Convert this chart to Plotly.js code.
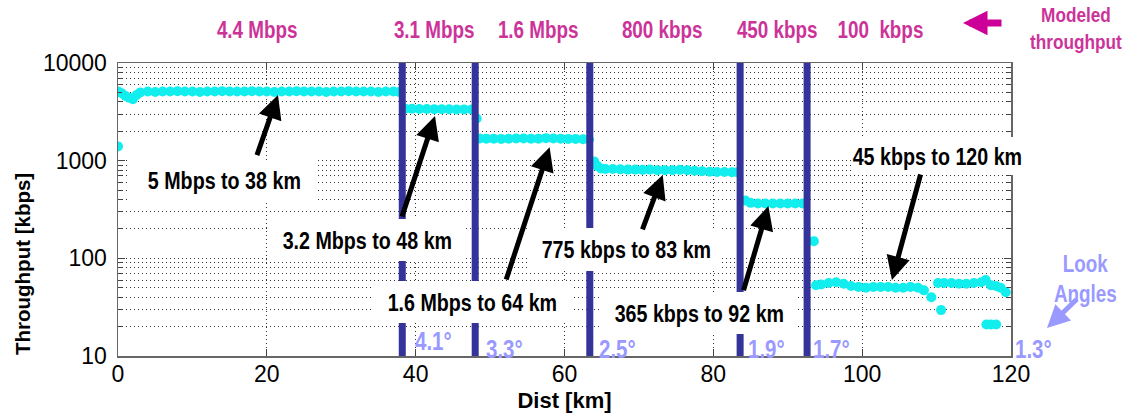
<!DOCTYPE html>
<html>
<head>
<meta charset="utf-8">
<script src="https://cdn.plot.ly/plotly-3.0.1.min.js"></script>
<style>html,body{margin:0;padding:0;background:#fff;}#chart{width:1127px;height:420px;}</style>
</head>
<body>
<div id="chart"></div>
<script>
// ---------- data ----------
const distKm = [
  0, 0, 0.5, 1, 1.5, 2, 2.5, 3, 4, 5, 6, 7, 8, 9, 10, 11, 12, 13, 14, 15, 16, 17, 18, 19, 20,
  21, 22, 23, 24, 25, 26, 27, 28, 29, 30, 31, 32, 33, 34, 35, 36, 37, 37.8,
  38.6, 39.5, 40.5, 41.5, 42.5, 43.5, 44.5, 45.5, 46.5, 47.5, 48.2,
  48.6, 49.5, 50.5, 51.5, 52.5, 53.5, 54.5, 55.5, 56.5, 57.5, 58.5, 59.5, 60.5, 61.5, 62.5, 63.3,
  64.0, 64.4, 64.9, 65.5, 66.5, 67.5, 68.5, 69.5, 70.5, 71.5, 72.5, 73.5, 74.5, 75.5, 76.5, 77.5,
  78.5, 79.5, 80.5, 81.5, 82.5, 83.2,
  84.3, 85, 86, 87, 88, 89, 90, 91, 92,
  93.5, 93.8, 94.5, 95.5, 96.5, 97.5, 98.5, 99.5, 100.5, 101.5, 102.5, 103.5, 104.5, 105.5,
  106.5, 107.5, 108.3, 109.3, 110.6,
  110.2, 111, 112, 113, 114, 115, 116, 116.6, 117.3, 118, 118.6, 119.3,
  116.7, 117.3, 118
];
const rateKbps = [
  1400, 5100, 4900, 4600, 4400, 4250, 4700, 5000, 5100, 5050, 5100, 5100, 5150, 5100, 5100,
  5050, 5100, 5100, 5150, 5100, 5100, 5100, 5150, 5100, 5100,
  5050, 5100, 5100, 5150, 5100, 5100, 5100, 5050, 5100, 5100, 5150, 5100, 5100, 5100, 5050, 5100, 5100, 5050,
  3400, 3400, 3380, 3380, 3370, 3370, 3360, 3350, 3350, 3340, 2700,
  1690, 1680, 1680, 1670, 1680, 1690, 1690, 1680, 1680, 1700, 1690, 1680, 1670, 1670, 1660, 1650,
  980, 880, 830, 820, 820, 815, 810, 810, 805, 810, 800, 800, 800, 805, 800, 790,
  780, 770, 765, 765, 760, 760,
  390, 370, 365, 365, 365, 365, 365, 365, 365,
  150, 53, 54, 56, 57, 55, 52, 51, 50, 51, 51, 51, 50, 50,
  51, 50, 47, 40, 29.5,
  56, 56, 56, 55, 55, 56, 57, 60, 53, 52, 50, 45,
  21, 21, 21
];

// vertical dividers (modeled-rate boundaries), km
const boundaryKm = [38.2, 48.0, 63.4, 83.6, 92.6];

// modeled throughput labels (top row)
const modeledLabels = ['4.4 Mbps', '3.1 Mbps', '1.6 Mbps', '800 kbps', '450 kbps', '100\u00a0 kbps'];

// look angles at each boundary
const lookAngles = ['4.1°', '3.3°', '2.5°', '1.9°', '1.7°', '1.3°'];

// measured-result callouts and the data points their arrows reach
const calloutLabels = ['5 Mbps to 38 km', '3.2 Mbps to 48 km', '1.6 Mbps to 64 km',
                       '775 kbps to 83 km', '365 kbps to 92 km', '45 kbps to 120 km'];
const arrowTipKm    = [21.5, 42.6, 58.0, 73.2, 87.4, 104.0];
const arrowTipKbps  = [4700, 2865, 1371, 713, 343, 60];
const arrowTailKm   = [18.6, 38.1, 52.1, 70.4, 84.0, 107.9];
const arrowTailKbps = [1099, 259, 58.6, 190.6, 45.5, 748];

// axis ticks
const xTickVals = [0, 20, 40, 60, 80, 100, 120];
const yTickVals = [10, 100, 1000, 10000];
const yTickText = ['10', '100', '1000', '10000'];
const yMinorVals = [20, 30, 40, 50, 60, 70, 80, 90, 200, 300, 400, 500, 600, 700, 800, 900,
                    2000, 3000, 4000, 5000, 6000, 7000, 8000, 9000];

// ---------- layout helpers (plot area in pixels) ----------
const PL = 118, PR = 1011, PT = 63, PB = 356;
const fx = p => (p - PL) / (PR - PL);
const fy = p => (PB - p) / (PB - PT);

const NARROW = "Liberation Sans Narrow, Arial Narrow, Liberation Sans, Arial, sans-serif";
const ARIAL = "Liberation Sans, Arial, sans-serif";
const MAGENTA = '#cc3399';
const LILAC = '#9999ff';

const trace = {
  x: distKm, y: rateKbps, type: 'scatter', mode: 'markers',
  marker: {size: 10, color: '#12eeee', line: {width: 0}},
  hoverinfo: 'x+y', showlegend: false
};

const shapes = [];
// blank patch in the original figure (top right, no grid)
shapes.push({type: 'rect', xref: 'paper', yref: 'paper', x0: fx(768), x1: fx(996), y0: fy(121), y1: fy(64.5),
             fillcolor: '#ffffff', line: {width: 0}, layer: 'between'});
boundaryKm.forEach(b => shapes.push({
  type: 'line', xref: 'x', yref: 'paper', x0: b, x1: b, y0: 0, y1: 1,
  line: {color: '#333399', width: 7}, layer: 'above'
}));
// white callout boxes: [centerX px, centerY px, width, height]
const boxGeom = [[224, 180, 188, 40], [367, 240, 198, 42], [472, 302, 200, 42],
                 [626, 249.5, 192, 43], [699, 313, 198, 42], [937, 156, 166, 38]];
boxGeom.forEach(g => shapes.push({type: 'rect', xref: 'paper', yref: 'paper',
  x0: fx(g[0] - g[2] / 2), x1: fx(g[0] + g[2] / 2), y0: fy(g[1] + g[3] / 2), y1: fy(g[1] - g[3] / 2),
  fillcolor: '#ffffff', line: {width: 0}, layer: 'above'}));

const annotations = [];
const narrowIdx = [];   // annotations drawn in a condensed face
calloutLabels.forEach((t, i) => {
  const g = boxGeom[i];
  narrowIdx.push(annotations.length);
  annotations.push({xref: 'paper', yref: 'paper', x: fx(g[0]), y: fy(g[1]), xanchor: 'center', yanchor: 'middle',
    text: '<b>' + t + '</b>', showarrow: false, borderpad: 0,
    font: {family: NARROW, size: 24, color: '#000'}});
});
// arrows to the data
arrowTipKm.forEach((xk, i) => {
  annotations.push({xref: 'x', yref: 'y', axref: 'x', ayref: 'y',
    x: xk, y: Math.log10(arrowTipKbps[i]), ax: arrowTailKm[i], ay: Math.log10(arrowTailKbps[i]),
    text: '', showarrow: true, arrowhead: 2, arrowsize: 0.95, arrowwidth: 5, arrowcolor: '#000', standoff: 0});
});
// modeled throughput labels
const modeledX = [257, 434, 538, 662, 777, 880];
modeledLabels.forEach((t, i) => {
  narrowIdx.push(annotations.length);
  annotations.push({xref: 'paper', yref: 'paper', x: fx(modeledX[i]), y: fy(30),
    xanchor: 'center', yanchor: 'middle', text: '<b>' + t + '</b>', showarrow: false,
    font: {family: NARROW, size: 23, color: MAGENTA}});
});
narrowIdx.push(annotations.length);
annotations.push({xref: 'paper', yref: 'paper', x: fx(1076), y: fy(28), xanchor: 'center', yanchor: 'middle',
  text: '<b>Modeled<br>throughput</b>', showarrow: false, font: {family: NARROW, size: 21, color: MAGENTA}});
annotations.push({xref: 'paper', yref: 'paper', x: fx(963), y: fy(23), ax: 40, ay: 0, text: '', showarrow: true,
  arrowhead: 2, arrowsize: 0.7, arrowwidth: 7, arrowcolor: '#cc0099', standoff: 0});
// look angles
const angleX = [433, 504, 617, 766, 831, 1033];
const angleY = [341, 349, 349, 349, 349, 349];
lookAngles.forEach((t, i) => {
  narrowIdx.push(annotations.length);
  annotations.push({xref: 'paper', yref: 'paper', x: fx(angleX[i]), y: fy(angleY[i]),
    xanchor: 'center', yanchor: 'middle', text: '<b>' + t + '</b>', showarrow: false,
    font: {family: NARROW, size: 25, color: LILAC}});
});
narrowIdx.push(annotations.length);
annotations.push({xref: 'paper', yref: 'paper', x: fx(1085), y: fy(279), xanchor: 'center', yanchor: 'middle',
  text: '<b>Look<br>Angles</b>', showarrow: false, font: {family: NARROW, size: 23, color: LILAC}});
annotations.push({xref: 'paper', yref: 'paper', x: fx(1047), y: fy(328), ax: 31, ay: -30, text: '', showarrow: true,
  arrowhead: 2, arrowsize: 0.9, arrowwidth: 5, arrowcolor: LILAC, standoff: 0});
// y-axis title (placed like the original, below centre)
annotations.push({xref: 'paper', yref: 'paper', x: fx(22), y: fy(264), xanchor: 'center', yanchor: 'middle',
  textangle: -90, text: '<b>Throughput [kbps]</b>', showarrow: false, font: {family: ARIAL, size: 20.5, color: '#000'}});

const GRID = '#333';
const layout = {
  width: 1127, height: 420,
  margin: {l: PL, r: 1127 - PR, t: PT, b: 420 - PB, pad: 0},
  paper_bgcolor: '#fff', plot_bgcolor: '#fff',
  showlegend: false,
  xaxis: {
    range: [0, 120], tickvals: xTickVals, ticks: 'inside', ticklen: 7, tickcolor: '#444', tickwidth: 1,
    showline: true, linecolor: '#666', linewidth: 1.5, mirror: 'ticks',
    showgrid: true, gridcolor: GRID, griddash: '1px,3px', gridwidth: 1, zeroline: false,
    tickfont: {family: ARIAL, size: 23, color: '#000'}, ticklabelstandoff: -3,
    title: {text: '<b>Dist [km]</b>', font: {family: ARIAL, size: 22, color: '#000'}, standoff: 6}
  },
  yaxis: {
    type: 'log', range: [1, 4], tickvals: yTickVals, ticktext: yTickText,
    ticks: 'inside', ticklen: 7, tickcolor: '#444', tickwidth: 1,
    showline: true, linecolor: '#666', linewidth: 1.5, mirror: 'ticks',
    showgrid: true, gridcolor: GRID, griddash: '1px,3px', gridwidth: 1, zeroline: false,
    tickfont: {family: ARIAL, size: 23, color: '#000'}, ticklabelstandoff: 5,
    minor: {tickvals: yMinorVals, ticks: 'inside', ticklen: 4, tickcolor: '#444',
            showgrid: true, gridcolor: GRID, griddash: '1px,3px', gridwidth: 1}
  },
  shapes: shapes,
  annotations: annotations
};

// the original uses a condensed bold face; none is installed, so squeeze the Arial-metric text horizontally
function condense(gd) {
  const groups = gd.querySelectorAll('.annotation');
  groups.forEach(g => {
    const idx = +g.getAttribute('data-index');
    if (narrowIdx.indexOf(idx) < 0) return;
    const txt = g.querySelector('text.annotation-text');
    if (!txt) return;
    const bb = txt.getBBox();
    const cx = bb.x + bb.width / 2;
    txt.setAttribute('transform', 'translate(' + cx + ',0) scale(0.82,1) translate(' + (-cx) + ',0)');
  });
}

Plotly.newPlot('chart', [trace], layout, {staticPlot: true, displayModeBar: false}).then(gd => condense(gd));
</script>
</body>
</html>
